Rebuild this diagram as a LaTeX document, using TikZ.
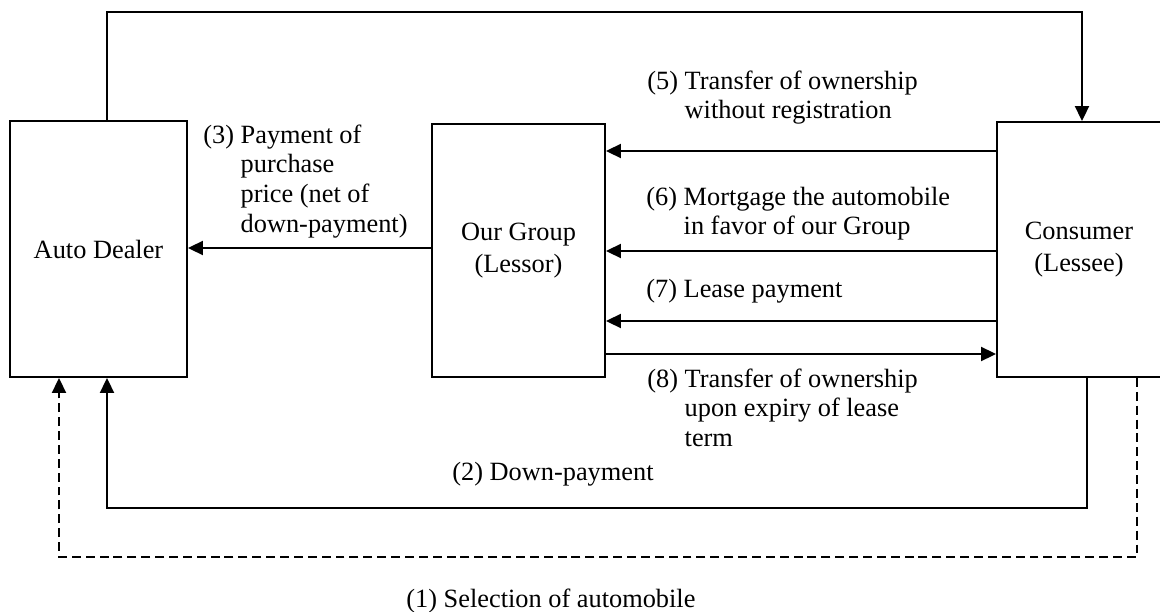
\documentclass[tikz,border=0pt]{standalone}
\usepackage{fontspec}
\setmainfont{Liberation Serif}
\usetikzlibrary{arrows.meta}

\tikzset{
  box/.style={draw, line width=1.1pt, inner sep=0pt, align=center,
    font=\fontsize{15}{18.2}\selectfont},
  flow/.style={line width=1.1pt, -{Triangle[length=0.3cm, width=0.28cm]}},
  lbl/.style={anchor=base west, inner sep=0pt},
}

\begin{document}
\begin{tikzpicture}[x=0.02cm, y=-0.02cm, font=\fontsize{15}{17.07}\selectfont]
    \useasboundingbox (0,0) rectangle (1160,612);
    \node[box, minimum width=3.54cm, minimum height=5.12cm] (ad) at (98.5,249) {Auto Dealer};
    \node[box, minimum width=3.46cm, minimum height=5.06cm] (og) at (518.5,250.5) {Our Group\\(Lessor)};
    \node[box, minimum width=3.28cm, minimum height=5.10cm] (co) at (1079,249.5) {Consumer\\(Lessee)};

    \draw[flow] (og.west |- 0,248) -- (ad.east |- 0,248);
    \foreach \y in {151,251,321}
        \draw[flow] (co.west |- 0,\y) -- (og.east |- 0,\y);
    \draw[flow] (og.east |- 0,354) -- (co.west |- 0,354);
    \draw[flow] (ad.north -| 107,0) |- (1082,12) -- (co.north -| 1082,0);
    \draw[flow] (co.south -| 1087,0) |- (107,508) -- (ad.south -| 107,0);
    \draw[flow, dash pattern=on 5.1pt off 2.8pt] (co.south -| 1137,0) |- (59,557) -- (ad.south -| 59,0);

    \node[lbl] (l3) at (203,143) {\begin{tabular}[t]{@{}l@{ }l@{}}(3) & Payment of\\ & purchase\\ & price (net of\\ & down-payment)\end{tabular}};
    \node[lbl] (l5) at (647,89) {\begin{tabular}[t]{@{}l@{ }l@{}}(5) & Transfer of ownership\\ & without registration\end{tabular}};
    \node[lbl] (l6) at (646,205) {\begin{tabular}[t]{@{}l@{ }l@{}}(6) & Mortgage the automobile\\ & in favor of our Group\end{tabular}};
    \node[lbl] (l7) at (646,297) {(7) Lease payment};
    \node[lbl] (l8) at (647,387) {\begin{tabular}[t]{@{}l@{ }l@{}}(8) & Transfer of ownership\\ & upon expiry of lease\\ & term\end{tabular}};
    \node[lbl] (l2) at (452,480) {(2) Down-payment};
    \node[lbl] (l1) at (406,607) {(1) Selection of automobile};
\end{tikzpicture}
\end{document}
